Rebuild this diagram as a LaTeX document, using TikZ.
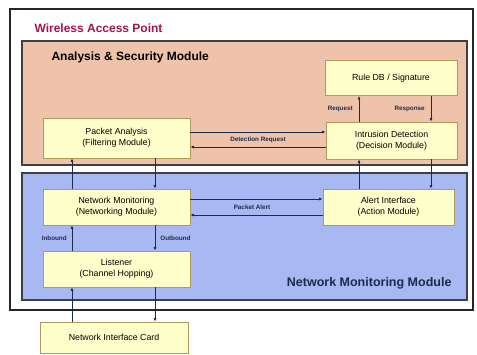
\documentclass[tikz,border=0pt]{standalone}
\usepackage{fontspec}
\setmainfont{Liberation Sans}
\usetikzlibrary{arrows.meta}
\definecolor{peach}{HTML}{EEC3AA}
\definecolor{bluebg}{HTML}{A8B8F2}
\definecolor{boxfill}{HTML}{FFFFCC}
\definecolor{boxline}{HTML}{B09A5A}
\definecolor{wap}{HTML}{A0154E}
\definecolor{linec}{HTML}{1E2A4A}
\tikzset{
  blk/.style={draw=boxline, line width=0.8pt, fill=boxfill, align=center, font=\fontsize{8.8}{11}\selectfont, inner sep=0pt},
  conn/.style={draw=linec, line width=0.7pt, -{Latex[length=3.5pt,width=3pt]}},
  lbl/.style={font=\fontsize{6.3}{7}\selectfont\bfseries, text=linec, inner sep=1pt},
}
\begin{document}
\begin{tikzpicture}[x=1pt,y=-1pt]
\useasboundingbox (0,0) rectangle (477,354);
\fill[white] (0,0) rectangle (477,354);
% outer box
\draw[line width=1.8pt, draw=black!85] (10,9) rectangle (473,310);
\node[anchor=west, text=wap, font=\fontsize{12}{14}\selectfont\bfseries] (t1) at (31,28) {Wireless Access Point};
% modules
\draw[line width=1.5pt, draw=black!75, fill=peach] (22,41) rectangle (467,165);
\node[anchor=west, font=\fontsize{12}{14}\selectfont\bfseries] (t2) at (48,57) {Analysis \& Security Module};
\draw[line width=1.5pt, draw=black!75, fill=bluebg] (22,173) rectangle (467,300);
\node[anchor=east, text=linec, font=\fontsize{12.5}{14}\selectfont\bfseries] (t3) at (455,283) {Network Monitoring Module};
% boxes
\node[blk, minimum width=147pt, minimum height=40pt] (pa) at (116.5,138) {Packet Analysis\\(Filtering Module)};
\node[blk, minimum width=147pt, minimum height=36pt] (nm) at (116.5,207) {Network Monitoring\\(Networking Module)};
\node[blk, minimum width=147pt, minimum height=36pt] (li) at (116.5,269) {Listener\\(Channel Hopping)};
\node[blk, minimum width=148pt, minimum height=31pt] (nic) at (114,337.5) {Network Interface Card};
\node[blk, minimum width=132pt, minimum height=35pt] (rdb) at (391,78) {Rule DB / Signature};
\node[blk, minimum width=131pt, minimum height=37pt] (id) at (391.5,140.5) {Intrusion Detection\\(Decision Module)};
\node[blk, minimum width=131pt, minimum height=36pt] (ai) at (388.5,207) {Alert Interface\\(Action Module)};
% helper coordinates
\coordinate (xL) at (72,0);
\coordinate (xR) at (155,0);
\coordinate (xA) at (359,0);
\coordinate (xB) at (431,0);
\coordinate (yD1) at (0,132);
\coordinate (yD2) at (0,147);
\coordinate (yP1) at (0,199);
\coordinate (yP2) at (0,215);
% connectors
\draw[conn] (id.north -| xA) -- node[lbl, left=5pt] {Request} (rdb.south -| xA);
\draw[conn] (rdb.south -| xB) -- node[lbl, left=5pt] {Response} (id.north -| xB);
\draw[conn] (pa.east |- yD1) -- (id.west |- yD1);
\draw[conn] (id.west |- yD2) -- (pa.east |- yD2);
\node[lbl] (dr) at (258,140) {Detection Request};
\draw[conn] (nm.north -| xL) -- (pa.south -| xL);
\draw[conn] (pa.south -| xR) -- (nm.north -| xR);
\draw[conn] (ai.north -| xA) -- (id.south -| xA);
\draw[conn] (id.south -| xB) -- (ai.north -| xB);
\draw[conn] (nm.east |- yP1) -- (ai.west |- yP1);
\draw[conn] (ai.west |- yP2) -- (nm.east |- yP2);
\node[lbl] (pk) at (252,207) {Packet Alert};
\draw[conn] (li.north -| xL) -- node[lbl, left=4pt] {Inbound} (nm.south -| xL);
\draw[conn] (nm.south -| xR) -- node[lbl, right=4pt] {Outbound} (li.north -| xR);
\draw[conn] (nic.north -| xL) -- (li.south -| xL);
\draw[conn] (li.south -| xR) -- (nic.north -| xR);
\end{tikzpicture}
\end{document}
